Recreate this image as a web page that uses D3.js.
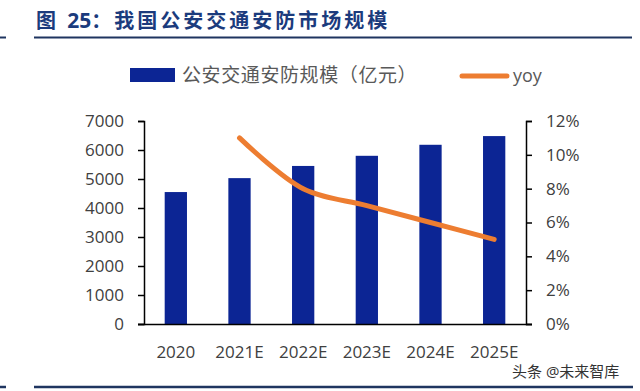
<!DOCTYPE html>
<html>
<head>
<meta charset="utf-8">
<script src="https://cdn.jsdelivr.net/npm/d3@7"></script>
<style>
  body { margin: 0; background: #fff; }
  text { font-family: "Open Sans", "Noto Sans CJK SC", sans-serif; }
</style>
</head>
<body>
<div id="chart"></div>
<script>
// data
const years = ["2020", "2021E", "2022E", "2023E", "2024E", "2025E"];
const marketSize = [4550, 5030, 5450, 5800, 6180, 6480];
const yoy = [null, 0.11, 0.08, 0.07, 0.06, 0.05];
const leftTicks = [0, 1000, 2000, 3000, 4000, 5000, 6000, 7000];
const rightTicks = [0, 0.02, 0.04, 0.06, 0.08, 0.10, 0.12];

const width = 640, height = 391;
const margin = { top: 121, right: 114, bottom: 67, left: 144 };
const innerW = width - margin.left - margin.right;
const innerH = height - margin.top - margin.bottom;

const svg = d3.select("#chart").append("svg")
    .attr("width", width)
    .attr("height", height);

// title + rules
const title = svg.append("text")
    .attr("x", 36).attr("y", 28)
    .attr("fill", "#1b3b7d")
    .attr("font-size", 20)
    .attr("font-weight", "bold")
    .attr("font-family", "'Noto Sans CJK SC', sans-serif");
title.append("tspan").attr("letter-spacing", 3).text("图 ");
title.append("tspan").attr("letter-spacing", 0).attr("font-size", 21).text("25");
title.append("tspan").attr("letter-spacing", 3).text("：我国公安交通安防市场规模");

svg.append("line").attr("x1", 34).attr("x2", 632).attr("y1", 37.5).attr("y2", 37.5)
    .attr("stroke", "#1f3560").attr("stroke-width", 2);
svg.append("line").attr("x1", 0).attr("x2", 6).attr("y1", 37.5).attr("y2", 37.5)
    .attr("stroke", "#1f3560").attr("stroke-width", 2);
svg.append("line").attr("x1", 34).attr("x2", 633).attr("y1", 387).attr("y2", 387)
    .attr("stroke", "#1f3560").attr("stroke-width", 2.5);
svg.append("line").attr("x1", 0).attr("x2", 6).attr("y1", 387).attr("y2", 387)
    .attr("stroke", "#1f3560").attr("stroke-width", 2.5);

// legend
const legend = svg.append("g").attr("class", "legend");
legend.append("rect")
    .attr("x", 130).attr("y", 68).attr("width", 45).attr("height", 14)
    .attr("fill", "#0c2594");
legend.append("text")
    .attr("x", 182).attr("y", 82)
    .attr("fill", "#595959")
    .attr("font-size", 19)
    .attr("letter-spacing", 0.6)
    .attr("font-family", "'Noto Sans CJK SC', sans-serif")
    .text("公安交通安防规模（亿元）");
legend.append("line")
    .attr("x1", 462).attr("x2", 507).attr("y1", 76).attr("y2", 76)
    .attr("stroke", "#ed7d31").attr("stroke-width", 5)
    .attr("stroke-linecap", "round");
legend.append("text")
    .attr("x", 513).attr("y", 82)
    .attr("fill", "#595959")
    .attr("font-size", 18)
    .text("yoy");

const g = svg.append("g")
    .attr("transform", `translate(${margin.left},${margin.top})`);

const x = d3.scaleBand()
    .domain(years)
    .range([0, innerW])
    .paddingInner(0.65)
    .paddingOuter(0.325);

const y = d3.scaleLinear().domain([0, 7000]).range([innerH, 0]);
const y2 = d3.scaleLinear().domain([0, 0.12]).range([innerH, 0]);

// bars
g.selectAll(".bar")
    .data(years.map((d, i) => ({ year: d, value: marketSize[i] })))
    .enter()
    .append("rect")
    .attr("class", "bar")
    .attr("x", d => x(d.year))
    .attr("width", x.bandwidth())
    .attr("y", d => y(d.value))
    .attr("height", d => innerH - y(d.value))
    .attr("fill", "#0c2594");

// axes
const yAxis = d3.axisLeft(y).tickValues(leftTicks).tickSize(6).tickPadding(14)
    .tickFormat(d3.format("d"));
const yAxisR = d3.axisRight(y2).tickValues(rightTicks).tickSize(6).tickPadding(14)
    .tickFormat(d => Math.round(d * 100) + "%");
const xAxis = d3.axisBottom(x).tickSize(0).tickPadding(22);

function styleAxis(sel) {
    sel.select(".domain").attr("stroke", "#000").attr("stroke-width", 1.5);
    sel.selectAll(".tick line").attr("stroke", "#000").attr("stroke-width", 1.5);
    sel.selectAll("text")
        .attr("fill", "#404040")
        .style("font-family", "'Open Sans', sans-serif")
        .style("font-size", "17px");
}

g.append("g").attr("class", "axis y-axis").call(yAxis).call(styleAxis);
g.append("g").attr("class", "axis y-axis-r")
    .attr("transform", `translate(${innerW},0)`)
    .call(yAxisR).call(styleAxis);
g.append("g").attr("class", "axis x-axis")
    .attr("transform", `translate(0,${innerH})`)
    .call(xAxis).call(styleAxis)
    .call(s => s.select(".domain").attr("d", `M-6,0.5H${innerW + 6}`));

// yoy line
const line = d3.line()
    .defined(d => d.v != null)
    .x(d => x(d.year) + x.bandwidth() / 2)
    .y(d => y2(d.v))
    .curve(d3.curveCatmullRom.alpha(0.5));

g.append("path")
    .datum(years.map((d, i) => ({ year: d, v: yoy[i] })).filter(d => d.v != null))
    .attr("d", line)
    .attr("fill", "none")
    .attr("stroke", "#ed7d31")
    .attr("stroke-width", 5)
    .attr("stroke-linecap", "round");

// watermark
svg.append("text")
    .attr("x", 512).attr("y", 377)
    .attr("fill", "#333")
    .attr("font-size", 15)
    .attr("font-family", "'Noto Sans CJK SC', sans-serif")
    .text("头条 @未来智库");
</script>
</body>
</html>
